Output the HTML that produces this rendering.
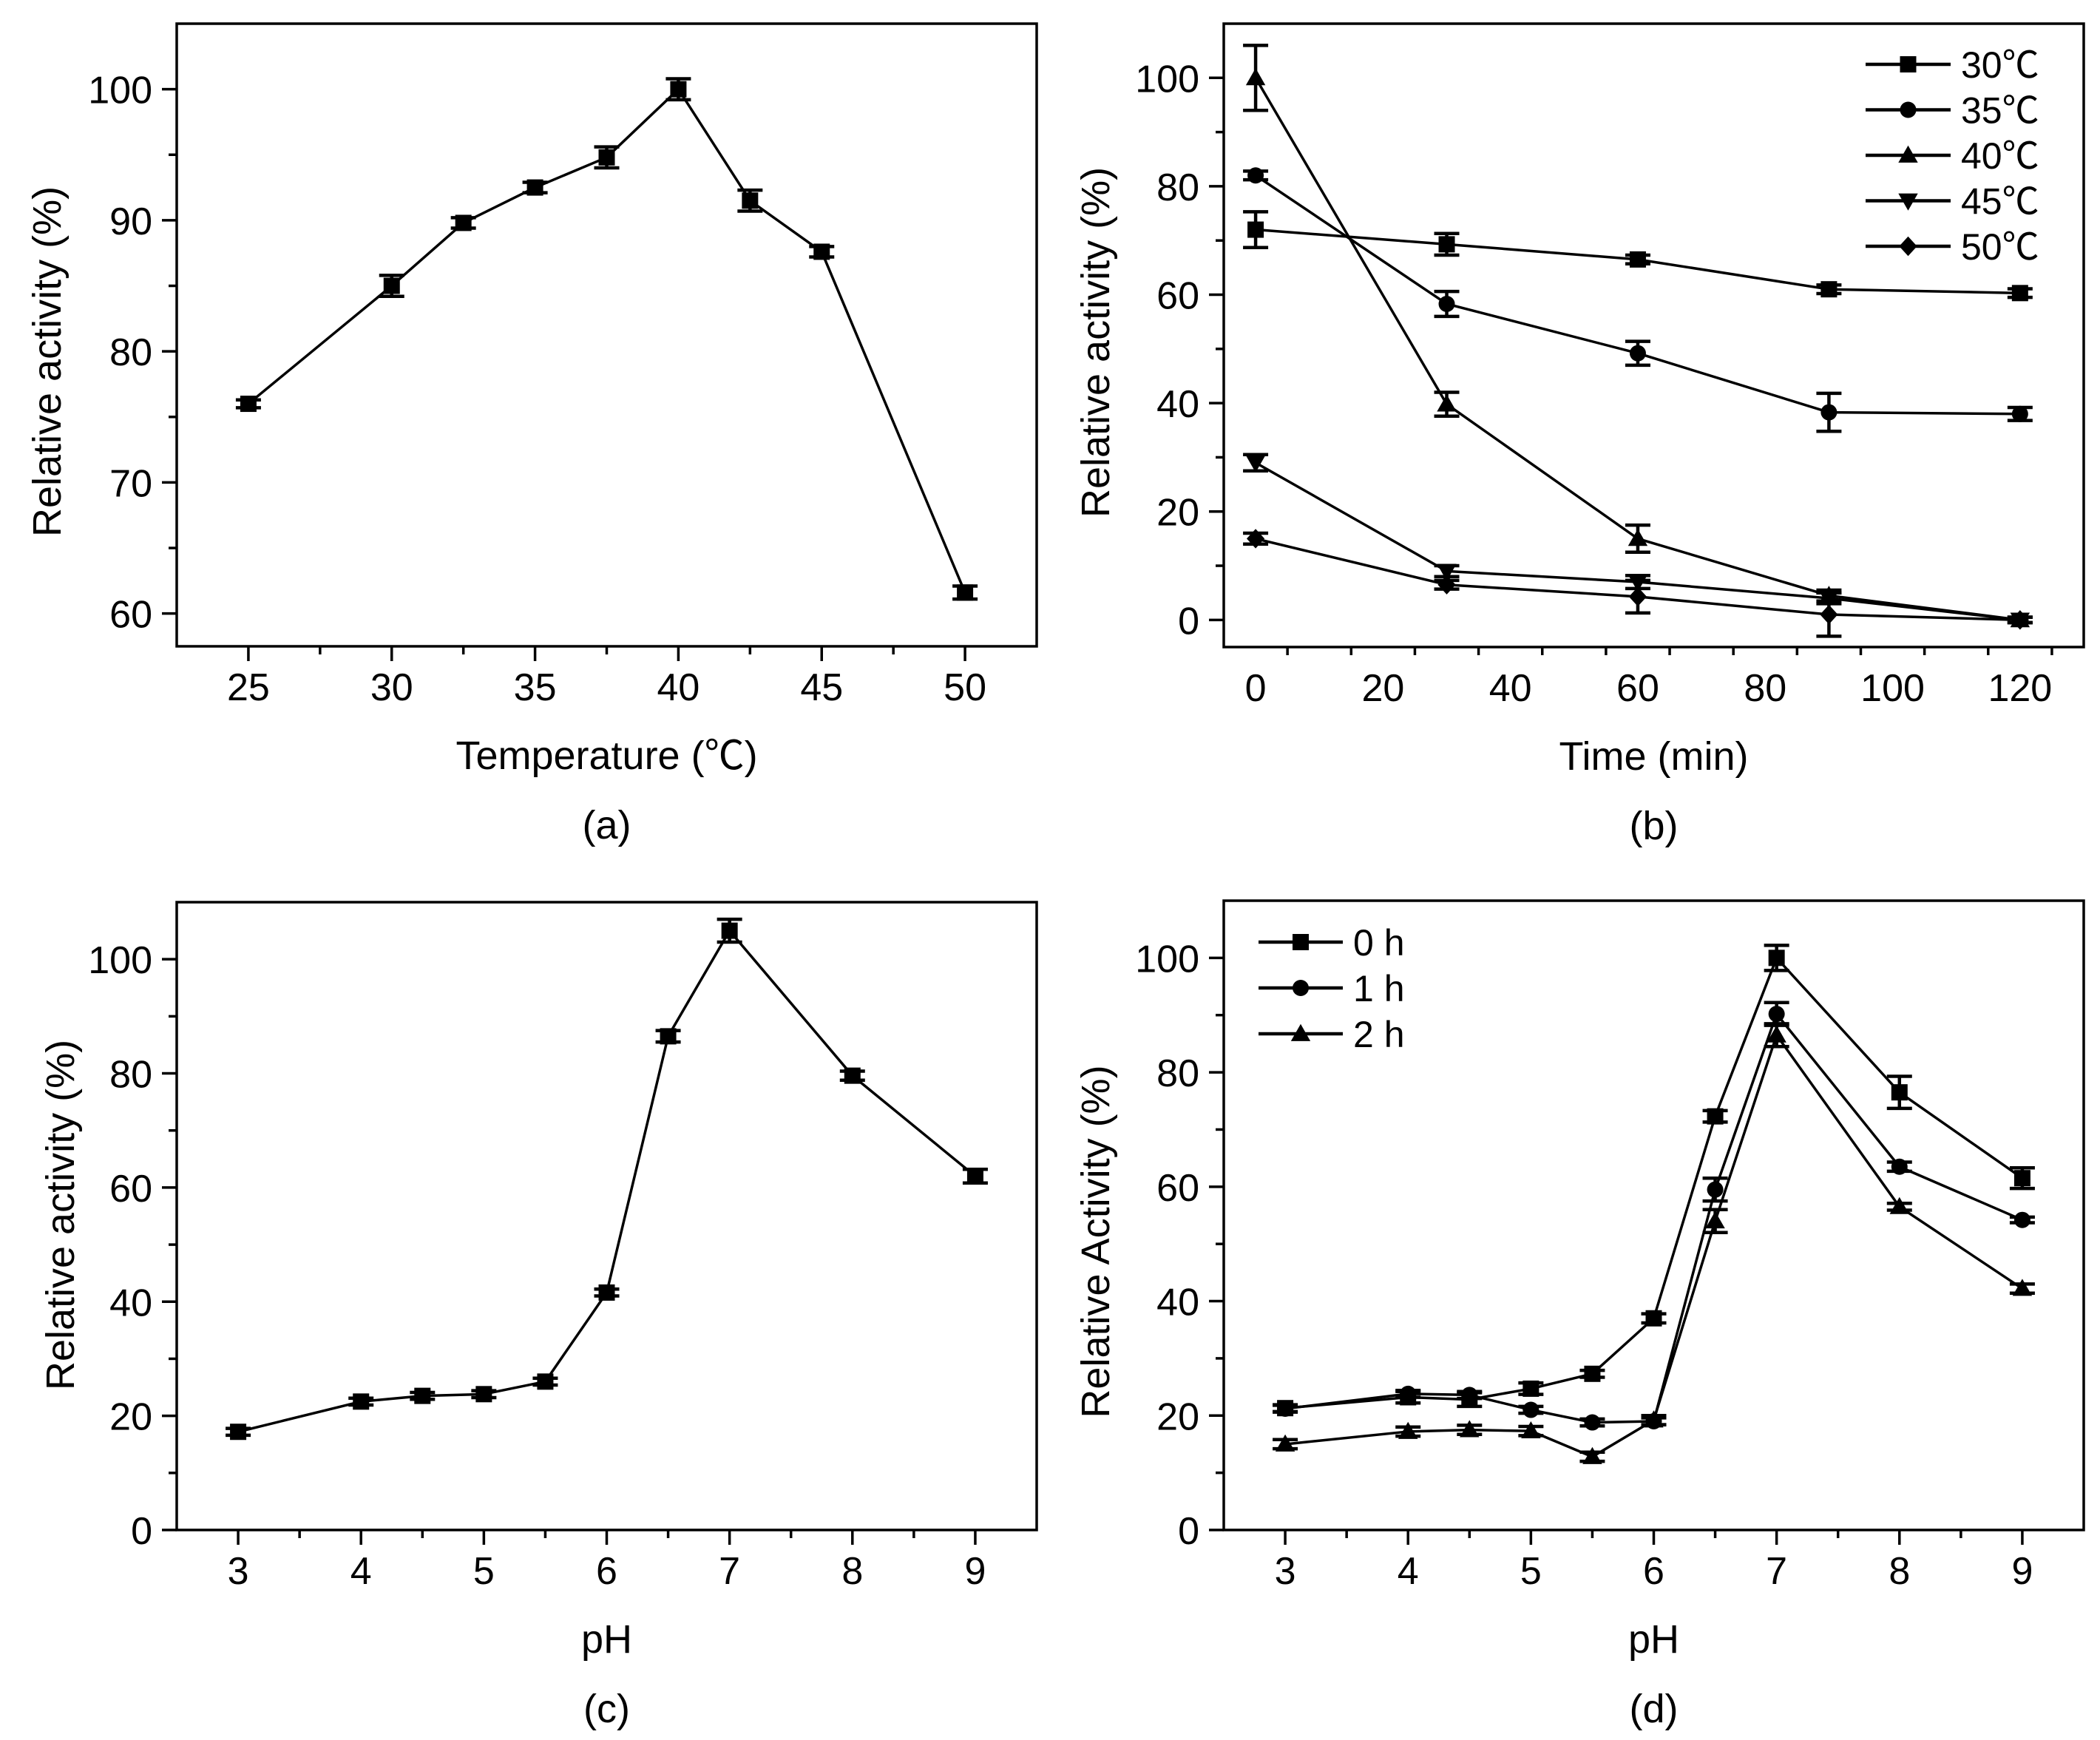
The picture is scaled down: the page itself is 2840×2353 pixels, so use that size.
<!DOCTYPE html>
<html><head><meta charset="utf-8">
<style>
html,body{margin:0;padding:0;background:#fff;}
svg{display:block;}
text{font-family:"Liberation Sans","Noto Sans CJK SC",sans-serif;fill:#000;}
</style></head>
<body>
<svg id="fig" width="2840" height="2353" viewBox="0 0 2840 2353" xmlns="http://www.w3.org/2000/svg"></svg>
<script>
// ---- Panel (a) data ----
const aTemps = [25, 30, 32.5, 35, 37.5, 40, 42.5, 45, 50];
const aValues = [76, 85, 89.8, 92.5, 94.8, 100, 91.5, 87.6, 61.6];
const aErrors = [0.3, 0.8, 0.4, 0.4, 0.8, 0.8, 0.8, 0.4, 0.5];
const aXTicks = [25, 30, 35, 40, 45, 50];
const aYTicks = [60, 70, 80, 90, 100];

// ---- Panel (b) data ----
const bTimes = [0, 30, 60, 90, 120];
const bSeriesNames = ["30℃", "35℃", "40℃", "45℃", "50℃"];
const b30 = [72, 69.3, 66.5, 61, 60.3];
const b35 = [82, 58.3, 49.2, 38.3, 38];
const b40 = [100, 39.8, 15, 4.5, 0];
const b45 = [29, 9, 7, 4, 0];
const b50 = [15, 6.5, 4.3, 1, 0];
const b30Err = [3.3, 2, 0.8, 0.8, 0.8];
const b35Err = [0.8, 2.3, 2.2, 3.5, 1.2];
const b40Err = [6, 2.2, 2.5, 1, 0.5];
const b45Err = [1.5, 1, 1.2, 1, 0.5];
const b50Err = [1, 0.8, 3, 4, 0.5];
const bXTicks = [0, 20, 40, 60, 80, 100, 120];
const bYTicks = [0, 20, 40, 60, 80, 100];

// ---- Panel (c) data ----
const cPH = [3, 4, 4.5, 5, 5.5, 6, 6.5, 7, 8, 9];
const cValues = [17.2, 22.5, 23.5, 23.8, 26, 41.6, 86.5, 105, 79.6, 62];
const cErrors = [0.6, 0.6, 0.6, 0.6, 0.6, 0.6, 1, 2, 0.8, 1.2];
const pHTicks = [3, 4, 5, 6, 7, 8, 9];
const cdYTicks = [0, 20, 40, 60, 80, 100];

// ---- Panel (d) data ----
const dPH = [3, 4, 4.5, 5, 5.5, 6, 6.5, 7, 8, 9];
const dSeriesNames = ["0 h", "1 h", "2 h"];
const d0 = [21.3, 23.2, 22.8, 24.7, 27.3, 37, 72.3, 100, 76.5, 61.5];
const d1 = [21.2, 23.8, 23.6, 21, 18.8, 19, 59.5, 90.2, 63.5, 54.2];
const d2 = [15, 17.2, 17.5, 17.3, 12.8, 19.2, 54, 86.5, 56.5, 42.2];
const d0Err = [0.6, 1, 1.2, 1, 0.6, 0.8, 1, 2.2, 2.8, 1.8];
const d1Err = [0.6, 0.6, 0.6, 0.6, 0.6, 0.6, 2, 2, 0.8, 0.5];
const d2Err = [0.8, 0.8, 0.8, 0.8, 0.8, 0.8, 2, 2, 0.6, 0.8];

const NS = "http://www.w3.org/2000/svg";
const svg = document.getElementById("fig");
function mk(tag, attrs, parent) {
  const e = document.createElementNS(NS, tag);
  for (const k in attrs) e.setAttribute(k, attrs[k]);
  (parent || svg).appendChild(e);
  return e;
}
function marker(g, shape, x, y, s) {
  let e;
  if (shape === "square") e = mk("rect", {x: x - s/2, y: y - s/2, width: s, height: s, fill: "#000"}, g);
  else if (shape === "circle") e = mk("circle", {cx: x, cy: y, r: s/2, fill: "#000"}, g);
  else if (shape === "up") e = mk("polygon", {points: `${x},${y - s*0.6} ${x - s*0.6},${y + s*0.45} ${x + s*0.6},${y + s*0.45}`, fill: "#000"}, g);
  else if (shape === "down") e = mk("polygon", {points: `${x},${y + s*0.6} ${x - s*0.6},${y - s*0.45} ${x + s*0.6},${y - s*0.45}`, fill: "#000"}, g);
  else e = mk("polygon", {points: `${x},${y - s*0.6} ${x + s*0.55},${y} ${x},${y + s*0.6} ${x - s*0.55},${y}`, fill: "#000"}, g);
  return e;
}

function panel(cfg) {
  const g = mk("g", {});
  
  
  const L = cfg.left, R = cfg.right, T = cfg.top, B = cfg.bottom;
  const sx = v => L + (v - cfg.xmin) / (cfg.xmax - cfg.xmin) * (R - L);
  const sy = v => B - (v - cfg.ymin) / (cfg.ymax - cfg.ymin) * (B - T);

  const fr = mk("rect", {x: L, y: T, width: R - L, height: B - T, fill: "none", stroke: "#000", "stroke-width": 3.5}, g);
  
  

  for (let v = cfg.xmin + cfg.xMinorStep; v < cfg.xmax - 1e-9; v += cfg.xMinorStep) {
    const major = cfg.xTicks.some(t => Math.abs(t - v) < 1e-6);
    const tk = mk("line", {x1: sx(v), y1: B, x2: sx(v), y2: B + (major ? 20 : 11), stroke: "#000", "stroke-width": 3.5}, g);
    
    
  }
  cfg.xTicks.forEach(t => {
    const tx = mk("text", {x: sx(t), y: B + 73, "font-size": 52, "text-anchor": "middle"}, g);
    tx.textContent = String(t);
    
    
  });
  for (let v = Math.ceil(cfg.ymin / cfg.yMinorStep) * cfg.yMinorStep; v <= cfg.ymax - 1e-9; v += cfg.yMinorStep) {
    if (v <= cfg.ymin + 1e-9) continue;
    const major = cfg.yTicks.some(t => Math.abs(t - v) < 1e-6);
    const tk = mk("line", {x1: L, y1: sy(v), x2: L - (major ? 20 : 11), y2: sy(v), stroke: "#000", "stroke-width": 3.5}, g);
    
    
  }
  if (cfg.ymin === 0) {
    const tk = mk("line", {x1: L, y1: sy(0), x2: L - 20, y2: sy(0), stroke: "#000", "stroke-width": 3.5}, g);
    
    
  }
  cfg.yTicks.forEach(t => {
    const ty = mk("text", {x: L - 33, y: sy(t) + 19, "font-size": 52, "text-anchor": "end"}, g);
    ty.textContent = String(t);
    
    
  });
  const xt = mk("text", {x: (L + R) / 2, y: B + 166, "font-size": 54, "text-anchor": "middle"}, g);
  xt.textContent = cfg.xTitle;
  
  
  const yt = mk("text", {x: 0, y: 0, "font-size": 54, "text-anchor": "middle", transform: `translate(${cfg.ytx},${cfg.yty}) rotate(-90)`}, g);
  yt.textContent = cfg.yTitle;
  
  
  const pl = mk("text", {x: (L + R) / 2, y: B + 260, "font-size": 54, "text-anchor": "middle"}, g);
  pl.textContent = cfg.label;
  
  

  cfg.series.forEach(s => {
    const sg = mk("g", {}, g);
    
    
    const pts = cfg.xs.map((x, i) => `${sx(x)},${sy(s.values[i])}`).join(" ");
    const ln = mk("polyline", {points: pts, fill: "none", stroke: "#000", "stroke-width": 3.5, "stroke-linejoin": "round"}, sg);
    
    
    cfg.xs.forEach((x, i) => {
      const px = sx(x), v = s.values[i], e = s.errors[i];
      const y1 = sy(v + e), y2 = sy(v - e);
      const eb = mk("path", {d: `M${px},${y1}V${y2}M${px-17},${y1}H${px+17}M${px-17},${y2}H${px+17}`, stroke: "#000", "stroke-width": 4.5, fill: "none"}, sg);
      
      
      const m = marker(sg, s.shape, px, sy(v), 22);
      
      
    });
  });

  if (cfg.legend) {
    const lg = mk("g", {}, g);
    
    
    cfg.series.forEach((s, i) => {
      const y = cfg.legend.y0 + i * cfg.legend.dy;
      const eg = mk("g", {}, lg);
      
      
      mk("line", {x1: cfg.legend.x1, y1: y, x2: cfg.legend.x2, y2: y, stroke: "#000", "stroke-width": 4.5}, eg);
      marker(eg, s.shape, (cfg.legend.x1 + cfg.legend.x2) / 2, y, 22);
      const t = mk("text", {x: cfg.legend.tx, y: y + 18, "font-size": 50}, eg);
      t.textContent = s.label;
    });
  }
}

panel({name: "panel-a-temperature", left: 239, right: 1402, top: 32, bottom: 874,
  xmin: 22.5, xmax: 52.5, ymin: 57.5, ymax: 105, xMinorStep: 2.5, yMinorStep: 5,
  xTicks: aXTicks, yTicks: aYTicks, xTitle: "Temperature (℃)", yTitle: "Relative activity (%)",
  ytx: 82, yty: 489, label: "(a)", xs: aTemps,
  series: [{name: "series-activity", label: "", shape: "square", values: aValues, errors: aErrors}]});

const bVals = [b30, b35, b40, b45, b50];
const bErrs = [b30Err, b35Err, b40Err, b45Err, b50Err];
const bShapes = ["square", "circle", "up", "down", "diamond"];
panel({name: "panel-b-thermal-stability", left: 1655, right: 2818, top: 32, bottom: 875,
  xmin: -5, xmax: 130, ymin: -5, ymax: 110, xMinorStep: 10, yMinorStep: 10,
  xTicks: bXTicks, yTicks: bYTicks, xTitle: "Time (min)", yTitle: "Relative activity (%)",
  ytx: 1500, yty: 463, label: "(b)", xs: bTimes,
  series: bSeriesNames.map((n, i) => ({name: "series-" + n.replace("℃", "c"), label: n, shape: bShapes[i], values: bVals[i], errors: bErrs[i]})),
  legend: {x1: 2523, x2: 2638, tx: 2652, y0: 87, dy: 61.5}});

panel({name: "panel-c-ph", left: 239, right: 1402, top: 1220, bottom: 2069,
  xmin: 2.5, xmax: 9.5, ymin: 0, ymax: 110, xMinorStep: 0.5, yMinorStep: 10,
  xTicks: pHTicks, yTicks: cdYTicks, xTitle: "pH", yTitle: "Relative activity (%)",
  ytx: 100, yty: 1643, label: "(c)", xs: cPH,
  series: [{name: "series-activity", label: "", shape: "square", values: cValues, errors: cErrors}]});

const dVals = [d0, d1, d2];
const dErrs = [d0Err, d1Err, d2Err];
const dShapes = ["square", "circle", "up"];
panel({name: "panel-d-ph-stability", left: 1655, right: 2818, top: 1218, bottom: 2069,
  xmin: 2.5, xmax: 9.5, ymin: 0, ymax: 110, xMinorStep: 0.5, yMinorStep: 10,
  xTicks: pHTicks, yTicks: cdYTicks, xTitle: "pH", yTitle: "Relative Activity (%)",
  ytx: 1500, yty: 1679, label: "(d)", xs: dPH,
  series: dSeriesNames.map((n, i) => ({name: "series-" + n.replace(" ", ""), label: n, shape: dShapes[i], values: dVals[i], errors: dErrs[i]})),
  legend: {x1: 1702, x2: 1816, tx: 1830, y0: 1274, dy: 62}});
</script>
</body></html>
